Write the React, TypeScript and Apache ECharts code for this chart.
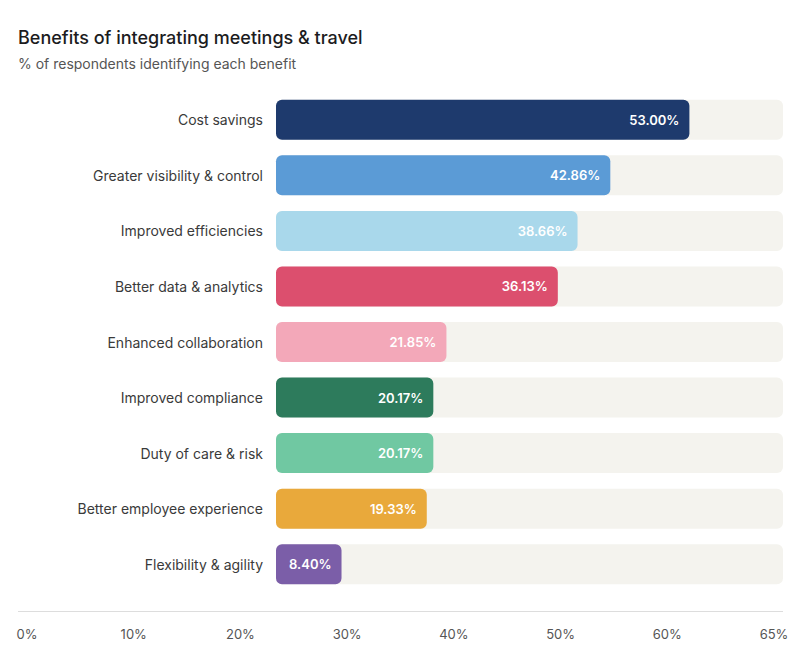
import React, { useEffect, useRef } from "react";
import * as echarts from "echarts";

const categories = [
  "Cost savings",
  "Greater visibility & control",
  "Improved efficiencies",
  "Better data & analytics",
  "Enhanced collaboration",
  "Improved compliance",
  "Duty of care & risk",
  "Better employee experience",
  "Flexibility & agility",
];
const values = [53.0, 42.86, 38.66, 36.13, 21.85, 20.17, 20.17, 19.33, 8.4];
const colors = [
  "#1e3a6d",
  "#5b9bd6",
  "#a9d8eb",
  "#dc4f6e",
  "#f3a8b9",
  "#2d7b5c",
  "#70c8a2",
  "#e9a93b",
  "#7b5ea8",
];
const tickLabels = ["0%", "10%", "20%", "30%", "40%", "50%", "60%", "65%"];
const axisMax = 65;

const FONT = "Inter, 'Noto Sans', sans-serif";

export default function App() {
  const ref = useRef<HTMLDivElement>(null);
  useEffect(() => {
    if (!ref.current) return;
    const chart = echarts.init(ref.current, undefined, { renderer: "svg" });
    chart.setOption({
      animation: false,
      backgroundColor: "#ffffff",
      textStyle: { fontFamily: FONT },
      title: {
        text: "Benefits of integrating meetings & travel",
        subtext: "% of respondents identifying each benefit",
        left: 18,
        top: 28,
        padding: 0,
        itemGap: 10,
        textStyle: { fontFamily: FONT, fontSize: 18, fontWeight: 500, color: "#1c1c1e" },
        subtextStyle: { fontFamily: FONT, fontSize: 14, color: "#555555" },
      },
      grid: [
        { left: 276, right: 18, top: 92, height: 500 },
        { left: 27, right: 27, top: 611, height: 1 },
      ],
      xAxis: [
        {
          gridIndex: 0,
          type: "value",
          min: 0,
          max: axisMax,
          show: false,
        },
        {
          gridIndex: 1,
          type: "category",
          data: tickLabels,
          boundaryGap: false,
          axisLine: { show: false },
          axisTick: { show: false },
          axisLabel: { margin: 15, fontSize: 13, color: "#555555", fontFamily: FONT, interval: 0 },
        },
      ],
      yAxis: [
        {
          gridIndex: 0,
          type: "category",
          data: categories,
          inverse: true,
          axisLine: { show: false },
          axisTick: { show: false },
          axisLabel: { margin: 13, fontSize: 14, color: "#3a3a3a", fontFamily: FONT },
        },
        { gridIndex: 1, type: "value", show: false },
      ],
      graphic: [
        {
          type: "line",
          shape: { x1: 18, y1: 611.5, x2: 783, y2: 611.5 },
          style: { stroke: "#dddddd", lineWidth: 1 },
        },
      ],
      series: [
        {
          type: "bar",
          xAxisIndex: 0,
          yAxisIndex: 0,
          barWidth: 40,
          showBackground: true,
          backgroundStyle: { color: "#f4f3ee", borderRadius: 6 },
          data: values.map((v, i) => ({
            value: v,
            itemStyle: { color: colors[i], borderRadius: 6 },
          })),
          label: {
            show: true,
            position: "insideRight",
            distance: 10,
            color: "#ffffff",
            fontSize: 13,
            fontWeight: 600,
            fontFamily: FONT,
            formatter: (p: any) => p.value.toFixed(2) + "%",
          },
        },
      ],
    });
    return () => chart.dispose();
  }, []);
  return (
    <div
      ref={ref}
      style={{ position: "absolute", left: 0, top: 0, width: 801, height: 657 }}
    />
  );
}
